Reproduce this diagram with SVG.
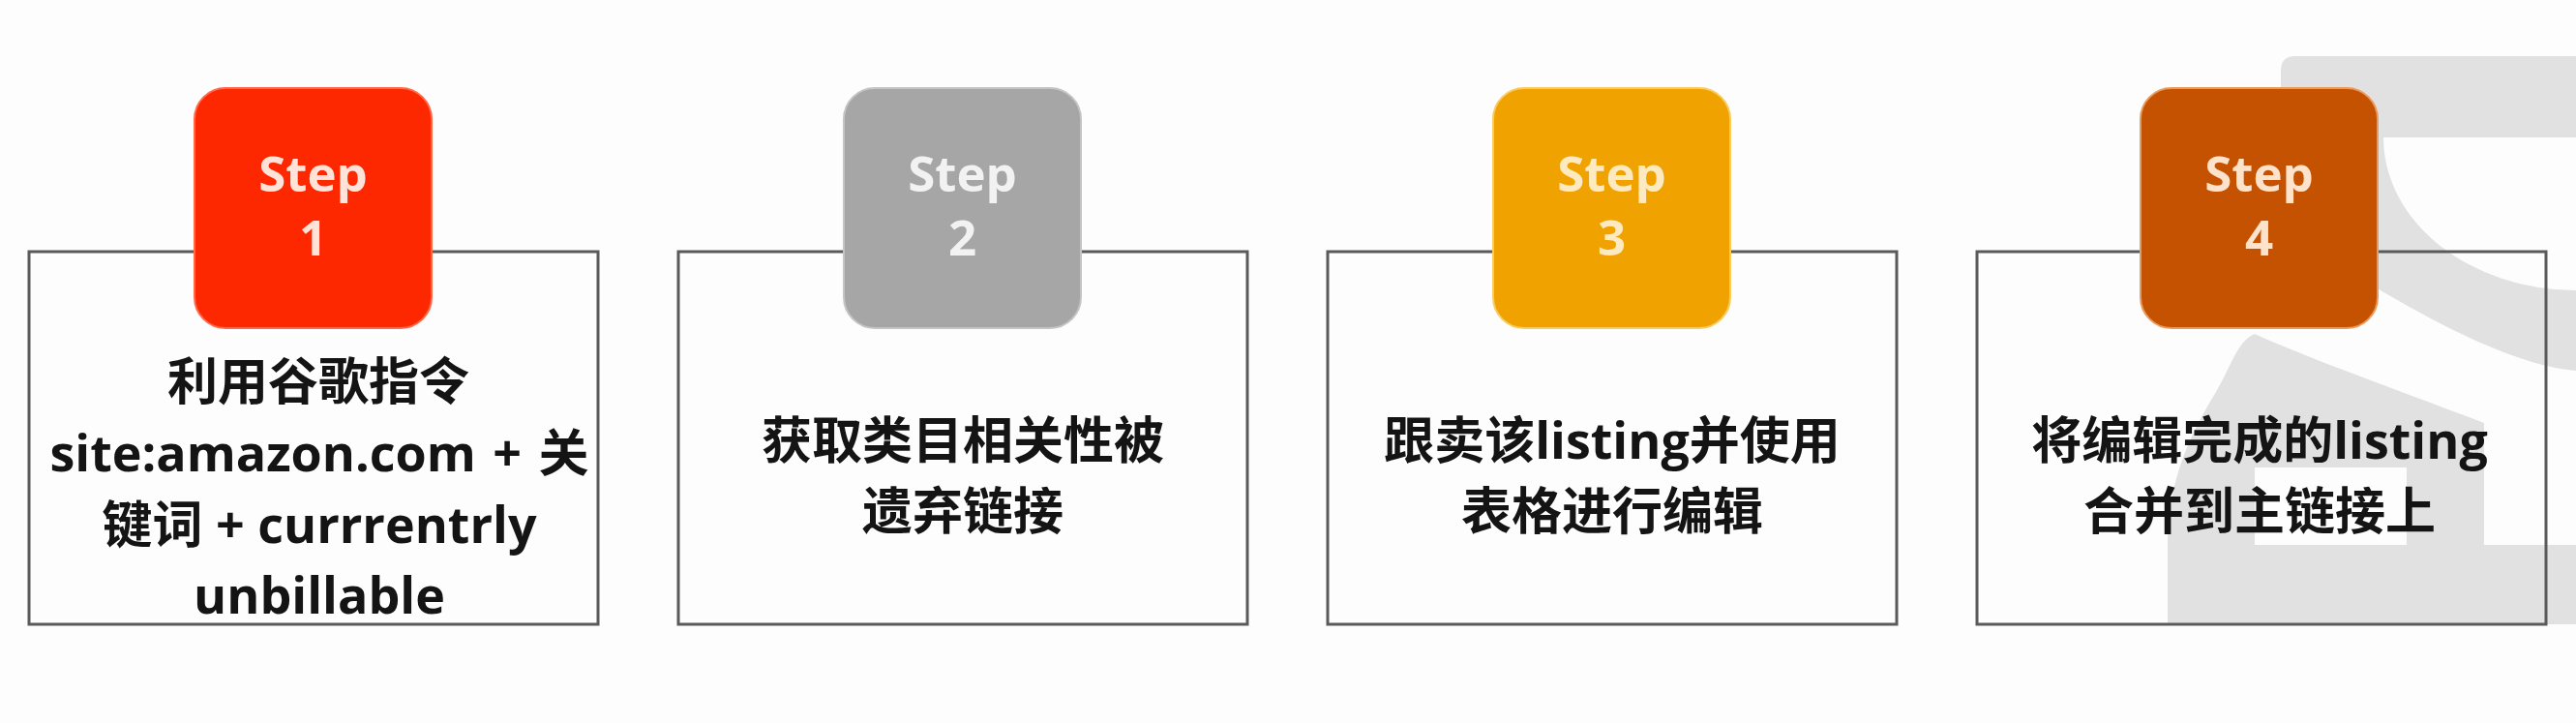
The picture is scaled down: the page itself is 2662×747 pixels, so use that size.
<svg xmlns="http://www.w3.org/2000/svg" width="2662" height="747" viewBox="0 0 2662 747">
  <style>
    .frame { fill: none; stroke: #5a5a5a; stroke-width: 3; }
    .badge { stroke-width: 2; }
    .step { font-family: "Open Sans", "Noto Sans", sans-serif; font-weight: 700; font-size: 51px; text-anchor: middle; }
    .body { font-family: "Open Sans", "Noto Sans CJK SC", sans-serif; font-weight: 700; font-size: 52px; text-anchor: middle; fill: #141414; }
    .wm { fill: #e1e1e1; fill-rule: evenodd; }
  </style>
  <rect x="0" y="0" width="2662" height="747" fill="#fdfdfd"/>

  <g id="watermark">
    <path class="wm" d="M2357,73 Q2357,58 2372,58 H2662 V383 C2600,378 2520,335 2460,300 C2420,270 2380,230 2365,180 C2358,150 2357,120 2357,100 Z M2463,142 H2662 V300 A199,158 0 0 1 2463,142 Z"/>
    <path class="wm" d="M2330,345 C2380,368 2470,400 2567,437 V563 H2662 V645 H2240 V560 C2240,500 2262,450 2290,405 C2305,380 2312,352 2330,345 Z M2330,483 H2487 V563 H2330 Z"/>
  </g>

  <g id="connectors"></g>

  <g id="step1">
    <rect class="frame" x="30" y="260" width="588" height="385"/>
    <rect class="badge" x="201" y="91" width="245" height="248" rx="32" fill="#fd2700" stroke="#ff6a4a"/>
    <text class="step" x="323.5" y="198" fill="#ffe3d8">Step</text>
    <text class="step" x="323.5" y="264" fill="#ffe3d8">1</text>
    <text class="body" x="329" y="413">利用谷歌指令</text>
    <text class="body" x="330" y="487" word-spacing="4">site:amazon.com + 关</text>
    <text class="body" x="330" y="561">键词 + currrentrly</text>
    <text class="body" x="330" y="634">unbillable</text>
  </g>

  <g id="step2">
    <rect class="frame" x="701" y="260" width="588" height="385"/>
    <rect class="badge" x="872" y="91" width="245" height="248" rx="32" fill="#a6a6a6" stroke="#c4c4c4"/>
    <text class="step" x="994.5" y="198" fill="#f2f2f2">Step</text>
    <text class="step" x="994.5" y="264" fill="#f2f2f2">2</text>
    <text class="body" x="995" y="474">获取类目相关性被</text>
    <text class="body" x="995" y="547">遗弃链接</text>
  </g>

  <g id="step3">
    <rect class="frame" x="1372" y="260" width="588" height="385"/>
    <rect class="badge" x="1543" y="91" width="245" height="248" rx="32" fill="#f0a300" stroke="#f8cc60"/>
    <text class="step" x="1665.5" y="198" fill="#fdeac0">Step</text>
    <text class="step" x="1665.5" y="264" fill="#fdeac0">3</text>
    <text class="body" x="1666" y="474">跟卖该listing并使用</text>
    <text class="body" x="1666" y="547">表格进行编辑</text>
  </g>

  <g id="step4">
    <rect class="frame" x="2043" y="260" width="588" height="385"/>
    <rect class="badge" x="2212" y="91" width="245" height="248" rx="32" fill="#c55200" stroke="#eb9a5c"/>
    <text class="step" x="2334.5" y="198" fill="#fde2cc">Step</text>
    <text class="step" x="2334.5" y="264" fill="#fde2cc">4</text>
    <text class="body" x="2335" y="474">将编辑完成的listing</text>
    <text class="body" x="2335" y="547">合并到主链接上</text>
  </g>
</svg>
